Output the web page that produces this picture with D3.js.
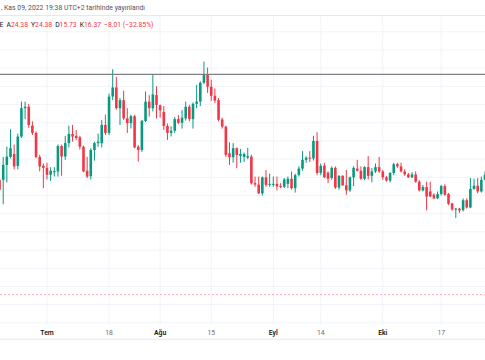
<!DOCTYPE html>
<html><head><meta charset="utf-8">
<script src="https://cdn.jsdelivr.net/npm/d3@7"></script>
<style>
html,body{margin:0;padding:0;background:#fff;overflow:hidden;}
svg{display:block;font-family:Roboto,"Trebuchet MS",sans-serif;}
</style></head><body>
<svg id="c" width="485" height="360"></svg>
<script>
// ---- data (SOL daily candles) ----
const firstDay = "2022-06-18";
const opens = [
 32.14,32.14,34.2,35.3,35.7,34.07,38.1,42.0,42.2,39.6,
 38.6,35.3,34.1,33.8,32.85,33.2,33.3,36.8,35.35,37.2,
 38.45,38.2,38.0,36.7,33.4,32.65,36.25,37.2,37.2,39.7,
 38.6,43.6,44.85,42.0,43.1,40.6,39.95,40.9,36.7,36.26,
 40.25,42.9,42.0,43.8,42.4,41.48,39.56,38.6,38.9,40.5,
 40.0,40.6,42.2,40.5,42.6,42.9,45.5,46.57,44.95,43.7,
 43.1,40.45,39.47,35.8,35.26,36.5,35.44,35.3,35.2,35.35,
 31.7,31.5,30.3,32.5,31.46,31.5,31.6,31.3,31.2,31.6,
 32.3,31.0,32.83,33.7,34.9,35.2,35.1,37.5,33.1,34.1,
 33.15,32.4,33.8,31.1,32.7,31.4,30.7,32.5,33.7,33.4,
 32.3,33.9,32.7,33.3,33.9,33.3,32.5,32.05,33.1,34.3,
 34.0,33.3,32.9,32.5,32.9,31.9,30.7,31.15,30.55,30.1,
 29.6,30.2,31.3,30.2,28.9,28.05,28.2,28.0,29.35,28.35,
 30.9,31.35,30.55,32.15];
const highs = [
 32.4,35.3,36.7,39.1,37.0,38.5,42.9,42.9,42.6,40.2,
 38.8,35.6,34.4,34.5,33.9,33.9,37.0,37.0,38.2,39.6,
 39.7,39.0,38.2,36.85,35.3,36.5,37.4,38.5,40.4,41.1,
 44.0,47.35,46.3,43.4,44.4,42.0,41.1,41.1,36.95,40.4,
 44.3,43.8,46.7,45.0,42.5,42.31,39.9,39.5,40.8,41.07,
 41.76,42.9,42.45,42.8,45.2,45.7,48.4,47.6,45.9,44.7,
 43.4,40.7,39.6,37.3,37.2,36.6,36.4,35.9,36.54,35.6,
 32.6,32.6,32.6,33.5,33.0,32.6,32.6,31.7,32.4,32.6,
 33.3,33.0,34.0,36.1,35.4,36.1,38.2,38.7,34.4,34.5,
 33.3,34.0,34.0,32.8,32.8,33.5,32.6,34.0,34.9,34.0,
 34.0,35.4,33.75,34.4,35.3,33.5,32.7,33.2,34.5,34.5,
 34.5,33.6,33.1,33.2,33.3,32.1,31.45,31.9,31.9,30.3,
 30.55,31.45,31.55,30.35,29.0,28.3,28.3,29.6,29.6,32.4,
 32.3,32.4,32.6,33.3];
const lows = [
 30.5,28.8,31.8,35.1,33.6,33.6,37.9,40.5,39.3,38.3,
 35.1,33.3,31.0,32.2,32.0,32.6,32.6,32.7,34.9,36.6,
 37.4,37.6,36.3,33.2,32.4,32.2,34.8,36.7,36.6,38.3,
 38.3,43.1,41.8,39.7,40.4,38.6,39.2,36.5,34.65,36.0,
 40.1,40.85,41.55,40.6,40.7,39.0,37.64,38.1,38.6,39.8,
 39.2,40.3,40.2,39.2,42.0,42.3,45.3,44.1,43.0,42.7,
 40.2,39.2,35.3,34.2,34.5,33.75,34.5,34.6,35.0,31.5,
 31.2,30.2,30.0,31.2,31.2,31.2,30.7,31.0,31.0,31.0,
 30.8,30.4,32.6,33.4,34.5,34.6,34.8,32.8,32.8,32.4,
 31.7,32.15,30.9,30.8,31.3,30.1,30.5,31.3,33.3,32.15,
 32.1,32.2,31.8,33.1,33.1,32.15,31.9,31.8,32.8,33.8,
 33.2,32.7,32.4,32.4,31.75,30.55,30.55,27.95,29.8,29.5,
 29.5,30.0,29.95,28.7,27.9,26.9,27.6,27.8,28.2,28.25,
 30.8,30.3,30.4,32.1];
const closes = [
 30.77,34.2,35.35,36.5,34.0,38.1,42.0,42.2,39.7,38.6,
 35.3,34.0,33.8,32.85,33.4,33.35,36.8,35.35,37.2,38.45,
 38.1,37.9,36.7,33.3,32.6,36.25,37.2,37.4,39.7,38.6,
 43.6,44.85,42.0,43.1,40.6,39.95,40.9,36.6,36.26,40.25,
 42.9,42.0,43.9,42.45,41.7,39.56,38.6,38.9,40.5,40.0,
 40.7,42.2,40.5,42.6,42.9,45.5,46.57,44.95,43.7,43.05,
 40.4,39.47,35.58,35.26,36.5,35.58,35.71,35.7,35.4,31.7,
 31.5,30.3,32.5,31.46,31.6,31.6,31.25,31.2,32.2,32.3,
 31.0,32.8,33.7,34.9,35.2,35.1,37.5,33.1,34.07,32.5,
 32.3,33.8,31.1,32.7,31.4,30.7,32.5,33.8,33.4,32.3,
 33.9,32.7,33.3,33.9,33.3,32.5,32.05,33.1,34.3,34.0,
 33.3,32.9,32.5,32.9,31.9,30.7,31.15,29.85,29.85,29.6,
 30.2,31.3,30.1,28.85,28.1,28.2,27.95,29.35,28.35,30.9,
 31.35,30.55,32.15,32.85];
const tickDates  = ["2022-07-01","2022-07-18","2022-08-01","2022-08-15","2022-09-01","2022-09-14","2022-10-01","2022-10-17"];
const tickLabels = ["Tem","18","Ağu","15","Eyl","14","Eki","17"];
const tickIsMonth = [true,false,true,false,true,false,true,false];
const gridPrices = [12.5,15,17.5,20,22.5,25,27.5,30,32.5,35,37.5,40,42.5,45,47.5,50,52.5];
const drawnLinePrice = 46.66;
const lastPrice = 16.37;
const headerText = ", Kas 09, 2022 19:38 UTC+2 tarihinde yayınlandı";
const legendPrefix = "E";
const legendKeys = ["A","Y","D","K"];
const legendVals = ["24.38","24.38","15.73","16.37"];
const legendChange = "\u22128.01 (\u221232.85%)";

// ---- chart ----
const W = 485, H = 360;
const UP = "#089981", DOWN = "#f23645";
const svg = d3.select("#c");
const parse = d3.utcParse("%Y-%m-%d");
const day0 = parse(firstDay);
const candles = opens.map((o,i)=>({date:d3.utcDay.offset(day0,i),o,h:highs[i],l:lows[i],c:closes[i]}));

const x = d3.scaleUtc()
  .domain([d3.utcHour.offset(day0,3), parse("2022-10-29")])
  .range([0, W]);
const y = d3.scaleLinear().domain([12.5,52.5]).range([322.8,31.8]);

const paneTop = 15, paneBottom = 325;

svg.append("rect").attr("width",W).attr("height",H).attr("fill","#fff");

// grid
const g = svg.append("g");
g.selectAll("line.h").data(gridPrices).join("line")
  .attr("x1",0).attr("x2",W)
  .attr("y1",d=>y(d)).attr("y2",d=>y(d))
  .attr("stroke","#f0f3fa").attr("stroke-width",1);
g.selectAll("line.v").data(tickDates).join("line")
  .attr("x1",d=>x(parse(d))).attr("x2",d=>x(parse(d)))
  .attr("y1",paneTop).attr("y2",paneBottom)
  .attr("stroke","#f0f3fa").attr("stroke-width",1);

// last price dashed line
svg.append("line").attr("x1",0).attr("x2",W)
  .attr("y1",y(lastPrice)).attr("y2",y(lastPrice))
  .attr("stroke",DOWN).attr("stroke-opacity",0.4)
  .attr("stroke-dasharray","2 2").attr("stroke-width",1);

// candles
const bw = 2.6;
const cg = svg.append("g");
cg.selectAll("line.w").data(candles).join("line")
  .attr("x1",d=>x(d.date)).attr("x2",d=>x(d.date))
  .attr("y1",d=>y(d.h)).attr("y2",d=>y(d.l))
  .attr("stroke",d=>d.c>=d.o?UP:DOWN).attr("stroke-width",1);
cg.selectAll("rect").data(candles).join("rect")
  .attr("x",d=>x(d.date)-bw/2).attr("width",bw)
  .attr("y",d=>y(Math.max(d.o,d.c)))
  .attr("height",d=>Math.max(1,Math.abs(y(d.o)-y(d.c))))
  .attr("fill",d=>d.c>=d.o?UP:DOWN);

// horizontal drawn line
svg.append("line").attr("x1",0).attr("x2",W)
  .attr("y1",y(drawnLinePrice)).attr("y2",y(drawnLinePrice))
  .attr("stroke","#808080").attr("stroke-width",1.2);

// time axis
const ax = svg.append("g");
ax.selectAll("text").data(tickDates).join("text")
  .attr("x",d=>x(parse(d))).attr("y",334.5)
  .attr("text-anchor","middle")
  .attr("font-size",6.8)
  .attr("font-weight",(d,i)=>tickIsMonth[i]?600:400)
  .attr("fill",(d,i)=>tickIsMonth[i]?"#131722":"#6a6d78")
  .text((d,i)=>tickLabels[i]);
svg.append("rect").attr("x",0).attr("y",338.6).attr("width",W).attr("height",1.6).attr("fill","#eceef2");

// header
svg.append("rect").attr("x",0).attr("y",0).attr("width",W).attr("height",paneTop).attr("fill","#fff");
svg.append("line").attr("x1",0).attr("x2",W).attr("y1",paneTop+0.5).attr("y2",paneTop+0.5)
  .attr("stroke","#e6e8ee").attr("stroke-width",1);
svg.append("text").attr("x",1).attr("y",10.3).attr("font-size",6.6)
  .attr("textLength",144).attr("lengthAdjust","spacingAndGlyphs")
  .attr("fill","#50535e").text(headerText);

const leg = svg.append("text").attr("x",-0.6).attr("y",26.8).attr("font-size",6.8);
leg.append("tspan").attr("fill","#131722").text(legendPrefix + " ");
legendKeys.forEach((k,i)=>{
  leg.append("tspan").attr("fill","#131722").attr("dx", i===0?1.5:3).text(k);
  leg.append("tspan").attr("fill",DOWN).text(legendVals[i]);
});
leg.append("tspan").attr("fill",DOWN).attr("dx",3).text(legendChange);
</script>
</body></html>
